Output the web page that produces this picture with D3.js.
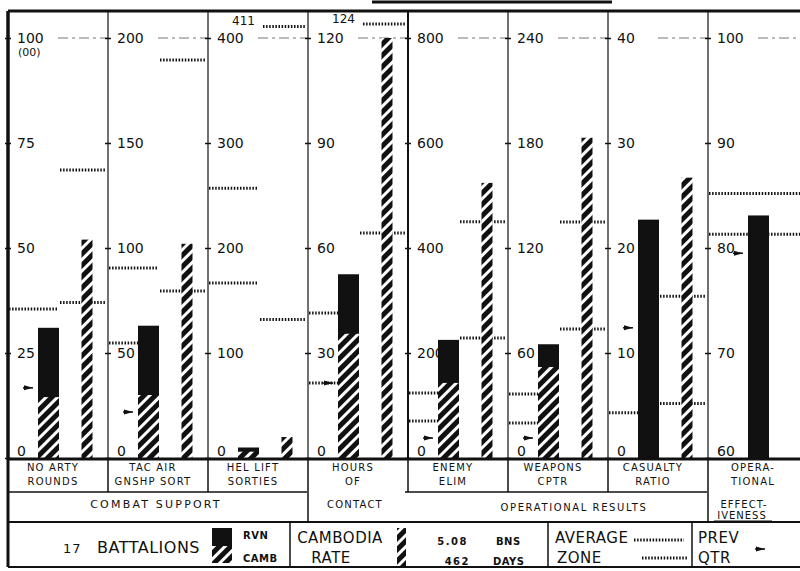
<!DOCTYPE html>
<html><head><meta charset="utf-8">
<script src="https://cdn.jsdelivr.net/npm/d3@7"></script>
<style>body{margin:0;background:#fff}svg{display:block}</style>
</head><body>
<script>
// ---------------- DATA ----------------
const categories = ["NO ARTY ROUNDS","TAC AIR GNSHP SORT","HEL LIFT SORTIES","HOURS OF CONTACT","ENEMY ELIM","WEAPONS CPTR","CASUALTY RATIO","OPERATIONAL EFFECTIVENESS"];
const axisMin = [0,0,0,0,0,0,0,60];
const axisMax = [100,200,400,120,800,240,40,100];
const tickValues = [[0,25,50,75,100],[0,50,100,150,200],[0,100,200,300,400],[0,30,60,90,120],[0,200,400,600,800],[0,60,120,180,240],[0,10,20,30,40],[60,70,80,90,100]];
const rvnValues      = [31, 63, 10, 52.5, 225, 65, 22.7, 83.1];
const rvnCambPart    = [14.5, 30, 6, 35.5, 143, 52, 0, 0];
const cambRateValues = [52, 102, 20, 120, 524, 183, 26.7, null];
const rvnAverage  = [35.5, 90.5, 257, 41.4, 124, 36.6, 4.3, 85.2];
const rvnZone     = [null, 54.8, 166.7, 21.4, 70.5, 20, null, 81.3];
const cambAverage = [68.6, 189.5, 411, 124, 450, 134.9, 15.4, null];
const cambZone    = [37, 79.5, 132, 64.3, 228.6, 73.7, 5.2, null];
const prevQtr     = [16.7, 21.9, null, 21.4, 38, 11.4, 12.4, 79.5];
const row1Labels = [["NO ARTY","ROUNDS"],["TAC AIR","GNSHP SORT"],["HEL LIFT","SORTIES"],["HOURS","OF"],["ENEMY","ELIM"],["WEAPONS","CPTR"],["CASUALTY","RATIO"],["OPERA-","TIONAL"]];

// ---------------- DRAW ----------------
const W = 800, H = 571;
const svg = d3.select("body").append("svg").attr("width", W).attr("height", H)
  .style("font-family", "'DejaVu Sans', sans-serif");
svg.append("rect").attr("width", W).attr("height", H).attr("fill", "#fff");

const defs = svg.append("defs");
const pat = defs.append("pattern").attr("id","hatch").attr("patternUnits","userSpaceOnUse")
  .attr("width",8).attr("height",8).attr("patternTransform","rotate(45)");
pat.append("rect").attr("width",8).attr("height",8).attr("fill","#111");
pat.append("rect").attr("width",3).attr("height",8).attr("fill","#fff");

const baseY = 458, topY = 38;
const xBand = d3.scaleBand().domain(categories).range([8, 808]).paddingInner(0).paddingOuter(0);
const bw = xBand.bandwidth();
const ink = "#111";

function dotted(g, x1, x2, yy) {
  g.append("line").attr("x1", x1).attr("x2", x2).attr("y1", yy).attr("y2", yy)
    .attr("stroke", ink).attr("stroke-width", 3).attr("stroke-dasharray", "1.5,1.6");
}

// title fragment (cut off at top)
svg.append("line").attr("x1",372).attr("x2",612).attr("y1",2).attr("y2",2).attr("stroke",ink).attr("stroke-width",3);

categories.forEach((cat, i) => {
  const x0 = xBand(cat);
  const inner = d3.scaleLinear().domain([0, 1]).range([x0, x0 + bw]);
  const y = d3.scaleLinear().domain([axisMin[i], axisMax[i]]).range([baseY, topY]);
  const g = svg.append("g");

  // panel separator / axis line
  g.append("line").attr("x1", x0).attr("x2", x0).attr("y1", 11).attr("y2", baseY + 2)
    .attr("stroke", ink).attr("stroke-width", i === 0 ? 3 : (i === 4 ? 2 : 1.2));

  // top reference line
  g.append("line").attr("x1", inner(0.5)).attr("x2", x0 + bw).attr("y1", y(axisMax[i])).attr("y2", y(axisMax[i]))
    .attr("stroke", "#777").attr("stroke-width", 1.2).attr("stroke-dasharray", "10,4,3,4");

  // axis
  const ax = g.append("g").attr("transform", `translate(${x0},0)`)
    .call(d3.axisRight(y).tickValues(tickValues[i]).tickSize(3).tickPadding(6).tickFormat(d3.format("d")));
  ax.select(".domain").remove();
  ax.selectAll(".tick line").attr("x1", -3).attr("x2", 3).attr("stroke", ink).attr("stroke-width", 1.5);
  ax.selectAll(".tick text").attr("font-size", 14).attr("fill", ink).attr("font-family", "'DejaVu Sans', sans-serif")
    .attr("dy", d => d === axisMin[i] ? "-0.15em" : "0.35em");
  if (i === 0) {
    g.append("text").attr("x", x0 + 10).attr("y", y(axisMax[i]) + 18).attr("font-size", 11).attr("fill", ink).text("(00)");
  }

  // average / zone dotted lines
  const hasCamb = cambRateValues[i] !== null;
  const lx2 = hasCamb ? inner(0.5) : x0 + bw;
  [rvnAverage[i], rvnZone[i]].forEach(v => { if (v !== null) dotted(g, x0 + 1, lx2, y(v)); });
  [cambAverage[i], cambZone[i]].forEach(v => {
    if (v === null) return;
    const xa = v > axisMax[i] ? inner(0.55) : inner(0.52);
    dotted(g, xa, x0 + bw - 2, y(v));
    if (v > axisMax[i]) {
      g.append("text").attr("x", xa - 8).attr("y", y(v) - 1).attr("text-anchor", "end")
        .attr("font-size", 12).attr("fill", ink).text(d3.format("d")(v));
    }
  });

  // RVN bar (solid) with CAMB portion hatched
  const rx = i === 7 ? inner(0.40) : inner(0.30), rw = 21;
  g.append("rect").attr("x", rx).attr("y", y(rvnValues[i])).attr("width", rw)
    .attr("height", baseY - y(rvnValues[i])).attr("fill", ink);
  if (rvnCambPart[i] > 0) {
    g.append("rect").attr("x", rx).attr("y", y(rvnCambPart[i])).attr("width", rw)
      .attr("height", baseY - y(rvnCambPart[i])).attr("fill", "url(#hatch)");
  }
  // Cambodia rate bar
  if (hasCamb) {
    g.append("rect").attr("x", inner(0.735)).attr("y", y(cambRateValues[i])).attr("width", 11)
      .attr("height", baseY - y(cambRateValues[i])).attr("fill", "url(#hatch)");
  }
  // previous quarter arrow
  if (prevQtr[i] !== null) {
    const ay = y(prevQtr[i]), ax0 = rx - 14;
    g.append("path").attr("d", `M${ax0},${ay - 2.5} L${ax0 + 9},${ay} L${ax0},${ay + 2.5} Z`).attr("fill", ink);
    g.append("line").attr("x1", ax0 - 1).attr("x2", ax0 + 9).attr("y1", ay).attr("y2", ay).attr("stroke", ink).attr("stroke-width", 1.5);
  }

  // row-1 category label
  row1Labels[i].forEach((t, k) => {
    svg.append("text").attr("x", x0 + bw / 2 - 5).attr("y", 471 + k * 14).attr("text-anchor", "middle")
      .attr("font-size", 10).attr("letter-spacing", 1.2).attr("fill", ink).text(t);
  });
});

// frame lines
const L = (x1, y1, x2, y2, w) => svg.append("line").attr("x1", x1).attr("y1", y1).attr("x2", x2).attr("y2", y2)
  .attr("stroke", ink).attr("stroke-width", w);
L(8, 11, 800, 11, 3);
L(8, baseY + 1, 800, baseY + 1, 3);
L(8, 11, 8, 567, 3);
L(8, 492, 307, 492, 1.5);
L(405, 492, 707, 492, 1.5);
L(8, 522, 800, 522, 2);
L(8, 567, 800, 567, 2);
[1, 2, 4, 5, 6].forEach(i => L(xBand(categories[i]), 460, xBand(categories[i]), 492, 1.5));
[3, 7].forEach(i => L(xBand(categories[i]), 460, xBand(categories[i]), 522, 1.5));
[290, 548, 692].forEach(x => L(x, 522, x, 567, 1.5));

const T = (x, y, t, size, anchor, ls) => svg.append("text").attr("x", x).attr("y", y).attr("font-size", size)
  .attr("text-anchor", anchor || "start").attr("letter-spacing", ls || 0).attr("fill", ink).text(t);

// row 2 group labels
T(156, 508, "COMBAT SUPPORT", 11, "middle", 2.2);
T(355, 508, "CONTACT", 10, "middle", 1.2);
T(574, 511, "OPERATIONAL RESULTS", 10, "middle", 1.6);
T(744, 508, "EFFECT-", 10, "middle", 1);
T(742, 519, "IVENESS", 10, "middle", 1);
L(714, 521, 772, 521, 1.2);

// legend row
T(63, 553, "17", 13, "start", 1);
T(97, 553, "BATTALIONS", 16, "start", 0.5);
svg.append("rect").attr("x", 212).attr("y", 528).attr("width", 20).attr("height", 18).attr("fill", ink);
svg.append("rect").attr("x", 212).attr("y", 546).attr("width", 20).attr("height", 17).attr("fill", "url(#hatch)");
T(243, 539, "RVN", 10, "start", 0.5).attr("font-weight", "bold");
T(243, 562, "CAMB", 10, "start", 0.5).attr("font-weight", "bold");
T(340, 543, "CAMBODIA", 15, "middle", 0.5);
T(331, 563, "RATE", 15, "middle", 0.5);
svg.append("rect").attr("x", 397).attr("y", 528).attr("width", 9).attr("height", 38).attr("fill", "url(#hatch)");
T(468, 545, "5.08", 10, "end", 1.5).attr("font-weight", "bold");
T(470, 565, "462", 10, "end", 1.5).attr("font-weight", "bold");
T(496, 545, "BNS", 10, "start", 0.5).attr("font-weight", "bold");
T(493, 565, "DAYS", 10, "start", 0.5).attr("font-weight", "bold");
T(555, 543, "AVERAGE", 15, "start", 0.5);
T(557, 563, "ZONE", 15, "start", 0.5);
dotted(svg, 634, 684, 540);
dotted(svg, 642, 688, 558);
T(698, 543, "PREV", 15, "start", 0.5);
T(698, 563, "QTR", 15, "start", 0.5);
svg.append("path").attr("d", "M756,546.5 L765,549 L756,551.5 Z").attr("fill", ink);
L(755, 549, 765, 549, 1.5);
</script>
</body></html>
